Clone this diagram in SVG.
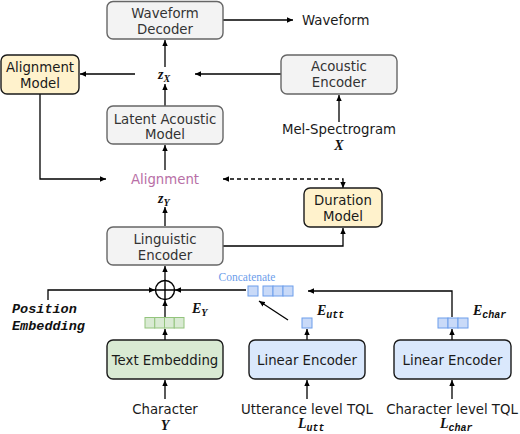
<svg xmlns="http://www.w3.org/2000/svg" width="520" height="434" viewBox="0 0 520 434">
<defs>
<marker id="arr" viewBox="0 0 6 6" refX="6" refY="3" markerWidth="6" markerHeight="6" markerUnits="userSpaceOnUse" orient="auto-start-reverse">
<path d="M0,0.3 L6,3 L0,5.7 Z" fill="#000"/>
</marker>
</defs>
<style>
.gray{fill:#f3f3f3;stroke:#666;stroke-width:1.4}
.yel{fill:#fff2cc;stroke:#1a1a1a;stroke-width:1.4}
.grn{fill:#d9ead3;stroke:#1a1a1a;stroke-width:1.4}
.blu{fill:#dae8fc;stroke:#1a1a1a;stroke-width:1.4}
.t{font-family:"DejaVu Sans",sans-serif;font-size:13.3px;fill:#1a1a1a;text-anchor:middle}
.tg{font-family:"DejaVu Sans",sans-serif;font-size:13.3px;fill:#333;text-anchor:middle}
.m{font-family:"Liberation Serif",serif;font-weight:bold;font-style:italic;font-size:14px;fill:#111}
.sub{font-family:"Liberation Mono",monospace;font-weight:bold;font-style:italic;font-size:10px}
.subs{font-family:"Liberation Serif",serif;font-weight:bold;font-style:italic;font-size:10px}
.pe{font-family:"Liberation Mono",monospace;font-weight:bold;font-style:italic;font-size:13.5px;fill:#111}
.ln{fill:none;stroke:#000;stroke-width:1.3}
.cg{fill:#d9ead3;stroke:#93c47d;stroke-width:1}
.cb{fill:#c9daf8;stroke:#6d9eeb;stroke-width:1}
</style>
<g id="connectors">
<path class="ln" d="M223,20 H293" marker-end="url(#arr)"/>
<path class="ln" d="M165,67 V40" marker-end="url(#arr)"/>
<path class="ln" d="M135,74 H80" marker-end="url(#arr)"/>
<path class="ln" d="M281,74 H195" marker-end="url(#arr)"/>
<path class="ln" d="M165,106 V84" marker-end="url(#arr)"/>
<path class="ln" d="M339,122 V95" marker-end="url(#arr)"/>
<path class="ln" d="M40,94 V179 H106" marker-end="url(#arr)"/>
<path class="ln" d="M165,170 V145" marker-end="url(#arr)"/>
<path class="ln" d="M223,179 H343 V188" stroke-dasharray="4,3" marker-start="url(#arr)" marker-end="url(#arr)"/>
<path class="ln" d="M165,226 V207" marker-end="url(#arr)"/>
<path class="ln" d="M223,246 H343 V228" marker-end="url(#arr)"/>
<path class="ln" d="M165,280 V266" marker-end="url(#arr)"/>
<path class="ln" d="M48,300 V290 H155" marker-end="url(#arr)"/>
<path class="ln" d="M246,290 H175" marker-end="url(#arr)"/>
<path class="ln" d="M452,317 V291 H308" marker-end="url(#arr)"/>
<path class="ln" d="M288,320 L259,301" marker-end="url(#arr)"/>
<path class="ln" d="M165,317 V300" marker-end="url(#arr)"/>
<path class="ln" d="M165,340 V329" marker-end="url(#arr)"/>
<path class="ln" d="M165,399 V380" marker-end="url(#arr)"/>
<path class="ln" d="M307,399 V380" marker-end="url(#arr)"/>
<path class="ln" d="M452,399 V380" marker-end="url(#arr)"/>
<path class="ln" d="M307,340 V329" marker-end="url(#arr)"/>
<path class="ln" d="M452,340 V329" marker-end="url(#arr)"/>
</g>
<g id="waveform-decoder">
<rect class="gray" x="107" y="1.5" width="116" height="37.5" rx="6"/>
<text class="tg" x="165" y="17.5">Waveform</text>
<text class="tg" x="165" y="34">Decoder</text>
</g>
<g id="waveform-out">
<text class="t" x="302" y="25" style="text-anchor:start">Waveform</text>
</g>
<g id="alignment-model">
<rect class="yel" x="1" y="55" width="78" height="39" rx="6"/>
<text class="t" x="40" y="72">Alignment</text>
<text class="t" x="40" y="88">Model</text>
</g>
<g id="zx">
<text class="m" x="158" y="79">z<tspan class="subs" dy="3">X</tspan></text>
</g>
<g id="acoustic-encoder">
<rect class="gray" x="281" y="55" width="116" height="39" rx="6"/>
<text class="tg" x="339" y="71">Acoustic</text>
<text class="tg" x="339" y="87">Encoder</text>
</g>
<g id="latent-acoustic-model">
<rect class="gray" x="107" y="106" width="116" height="38" rx="6"/>
<text class="tg" x="165" y="123.5">Latent Acoustic</text>
<text class="tg" x="165" y="139">Model</text>
</g>
<g id="mel">
<text class="t" x="339" y="134">Mel-Spectrogram</text>
<text class="m" x="339" y="150" text-anchor="middle">X</text>
</g>
<g id="alignment">
<text class="t" x="165" y="184" style="fill:#b86fa6">Alignment</text>
</g>
<g id="duration-model">
<rect class="yel" x="304" y="188" width="78" height="39" rx="6"/>
<text class="t" x="343" y="204.5">Duration</text>
<text class="t" x="343" y="220.5">Model</text>
</g>
<g id="zy">
<text class="m" x="158" y="203">z<tspan class="subs" dy="3">Y</tspan></text>
</g>
<g id="linguistic-encoder">
<rect class="gray" x="107" y="227" width="116" height="38" rx="6"/>
<text class="tg" x="165" y="243.5">Linguistic</text>
<text class="tg" x="165" y="259.5">Encoder</text>
</g>
<g id="oplus">
<circle cx="165" cy="290" r="9.5" fill="#fff" stroke="#000" stroke-width="1.4"/>
<path d="M155.5,290 H174.5 M165,280.5 V299.5" stroke="#000" stroke-width="1.4"/>
</g>
<g id="position-embedding">
<text class="pe" x="12" y="313">Position</text>
<text class="pe" x="12" y="330">Embedding</text>
</g>
<g id="concatenate">
<text x="247" y="281" text-anchor="middle" style="font-family:'Liberation Serif',serif;font-size:11.5px;fill:#6d9eeb">Concatenate</text>
<rect class="cb" x="248" y="286" width="10" height="10"/>
<rect class="cb" x="263" y="286" width="10" height="10"/>
<rect class="cb" x="273" y="286" width="10" height="10"/>
<rect class="cb" x="283" y="286" width="10" height="10"/>
</g>
<g id="ey">
<rect class="cg" x="145" y="317.5" width="9.75" height="10.5"/>
<rect class="cg" x="154.75" y="317.5" width="9.75" height="10.5"/>
<rect class="cg" x="164.5" y="317.5" width="9.75" height="10.5"/>
<rect class="cg" x="174.25" y="317.5" width="9.75" height="10.5"/>
<text class="m" x="192" y="313">E<tspan class="subs" dy="3">Y</tspan></text>
</g>
<g id="eutt">
<rect class="cb" x="302" y="318" width="10" height="10"/>
<text class="m" x="317" y="315">E<tspan class="sub" dy="3">utt</tspan></text>
</g>
<g id="echar">
<rect class="cb" x="438" y="318" width="10" height="10"/>
<rect class="cb" x="448" y="318" width="10" height="10"/>
<rect class="cb" x="458" y="318" width="10" height="10"/>
<text class="m" x="473" y="315">E<tspan class="sub" dy="3">char</tspan></text>
</g>
<g id="text-embedding">
<rect class="grn" x="107" y="340" width="116" height="39" rx="6"/>
<text class="t" x="165" y="365">Text Embedding</text>
</g>
<g id="linear-encoder-utt">
<rect class="blu" x="249" y="340" width="116" height="39" rx="6"/>
<text class="t" x="307" y="365">Linear Encoder</text>
</g>
<g id="linear-encoder-char">
<rect class="blu" x="394" y="340" width="117" height="39" rx="6"/>
<text class="t" x="452.5" y="365">Linear Encoder</text>
</g>
<g id="character">
<text class="t" x="165" y="414">Character</text>
<text class="m" x="165" y="430" text-anchor="middle">Y</text>
</g>
<g id="utterance-tql">
<text class="t" x="307" y="414">Utterance level TQL</text>
<text class="m" x="298" y="428">L<tspan class="sub" dy="2.5">utt</tspan></text>
</g>
<g id="character-tql">
<text class="t" x="452" y="414">Character level TQL</text>
<text class="m" x="440" y="428">L<tspan class="sub" dy="2.5">char</tspan></text>
</g>
</svg>
